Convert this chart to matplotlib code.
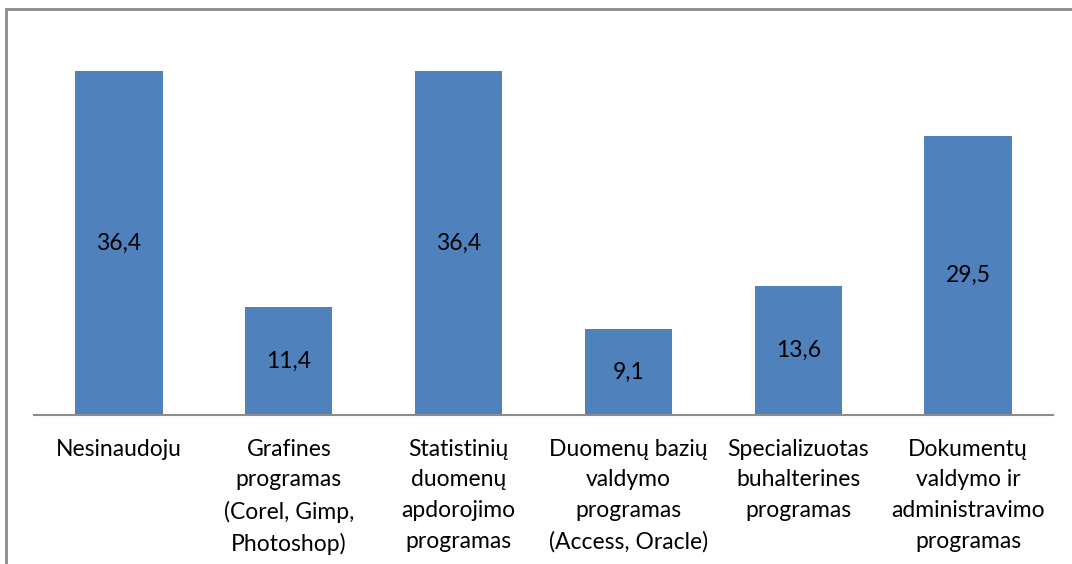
import matplotlib.pyplot as plt
from matplotlib.patches import Rectangle

categories = [
    "Nesinaudoju",
    "Grafines\nprogramas\n(Corel, Gimp,\nPhotoshop)",
    "Statistinių\nduomenų\napdorojimo\nprogramas",
    "Duomenų bazių\nvaldymo\nprogramas\n(Access, Oracle)",
    "Specializuotas\nbuhalterines\nprogramas",
    "Dokumentų\nvaldymo ir\nadministravimo\nprogramas",
]
values = [36.4, 11.4, 36.4, 9.1, 13.6, 29.5]
value_labels = ["36,4", "11,4", "36,4", "9,1", "13,6", "29,5"]

W, H = 1072, 564
plt.rcParams["font.family"] = ["Lato", "DejaVu Sans"]

fig = plt.figure(figsize=(W / 100, H / 100), dpi=100)

# chart frame (runs off the right and bottom edges)
fig.patches.append(Rectangle((6 / W, -0.1), 1.2, 1 - 9 / H + 0.1, transform=fig.transFigure,
                             fill=False, edgecolor="#8c8c8c", linewidth=2, zorder=0))

x0, x1, y_base = 34, 1053, 415
ymax = 40
top_px = y_base - ymax * (y_base - 71) / 36.4
ax = fig.add_axes([x0 / W, 1 - y_base / H, (x1 - x0) / W, (y_base - top_px) / H])

pos = range(len(categories))
bars = ax.bar(pos, values, width=0.515, color="#4f81bd", zorder=2)
for b, lab, v in zip(bars, value_labels, values):
    ax.text(b.get_x() + b.get_width() / 2, v / 2, lab, ha="center", va="center",
            fontsize=16.5, color="black")

ax.set_xlim(-0.5, len(categories) - 0.5)
ax.set_ylim(0, ymax)
for s in ["top", "right", "left"]:
    ax.spines[s].set_visible(False)
ax.spines["bottom"].set_color("#8c8c8c")
ax.spines["bottom"].set_linewidth(1.5)
ax.set_yticks([])
ax.set_xticks(list(pos))
ax.set_xticklabels(categories, fontsize=16.5, linespacing=1.57, va="top")
ax.tick_params(axis="x", length=0, pad=17)

fig.savefig("out.png", dpi=100)
